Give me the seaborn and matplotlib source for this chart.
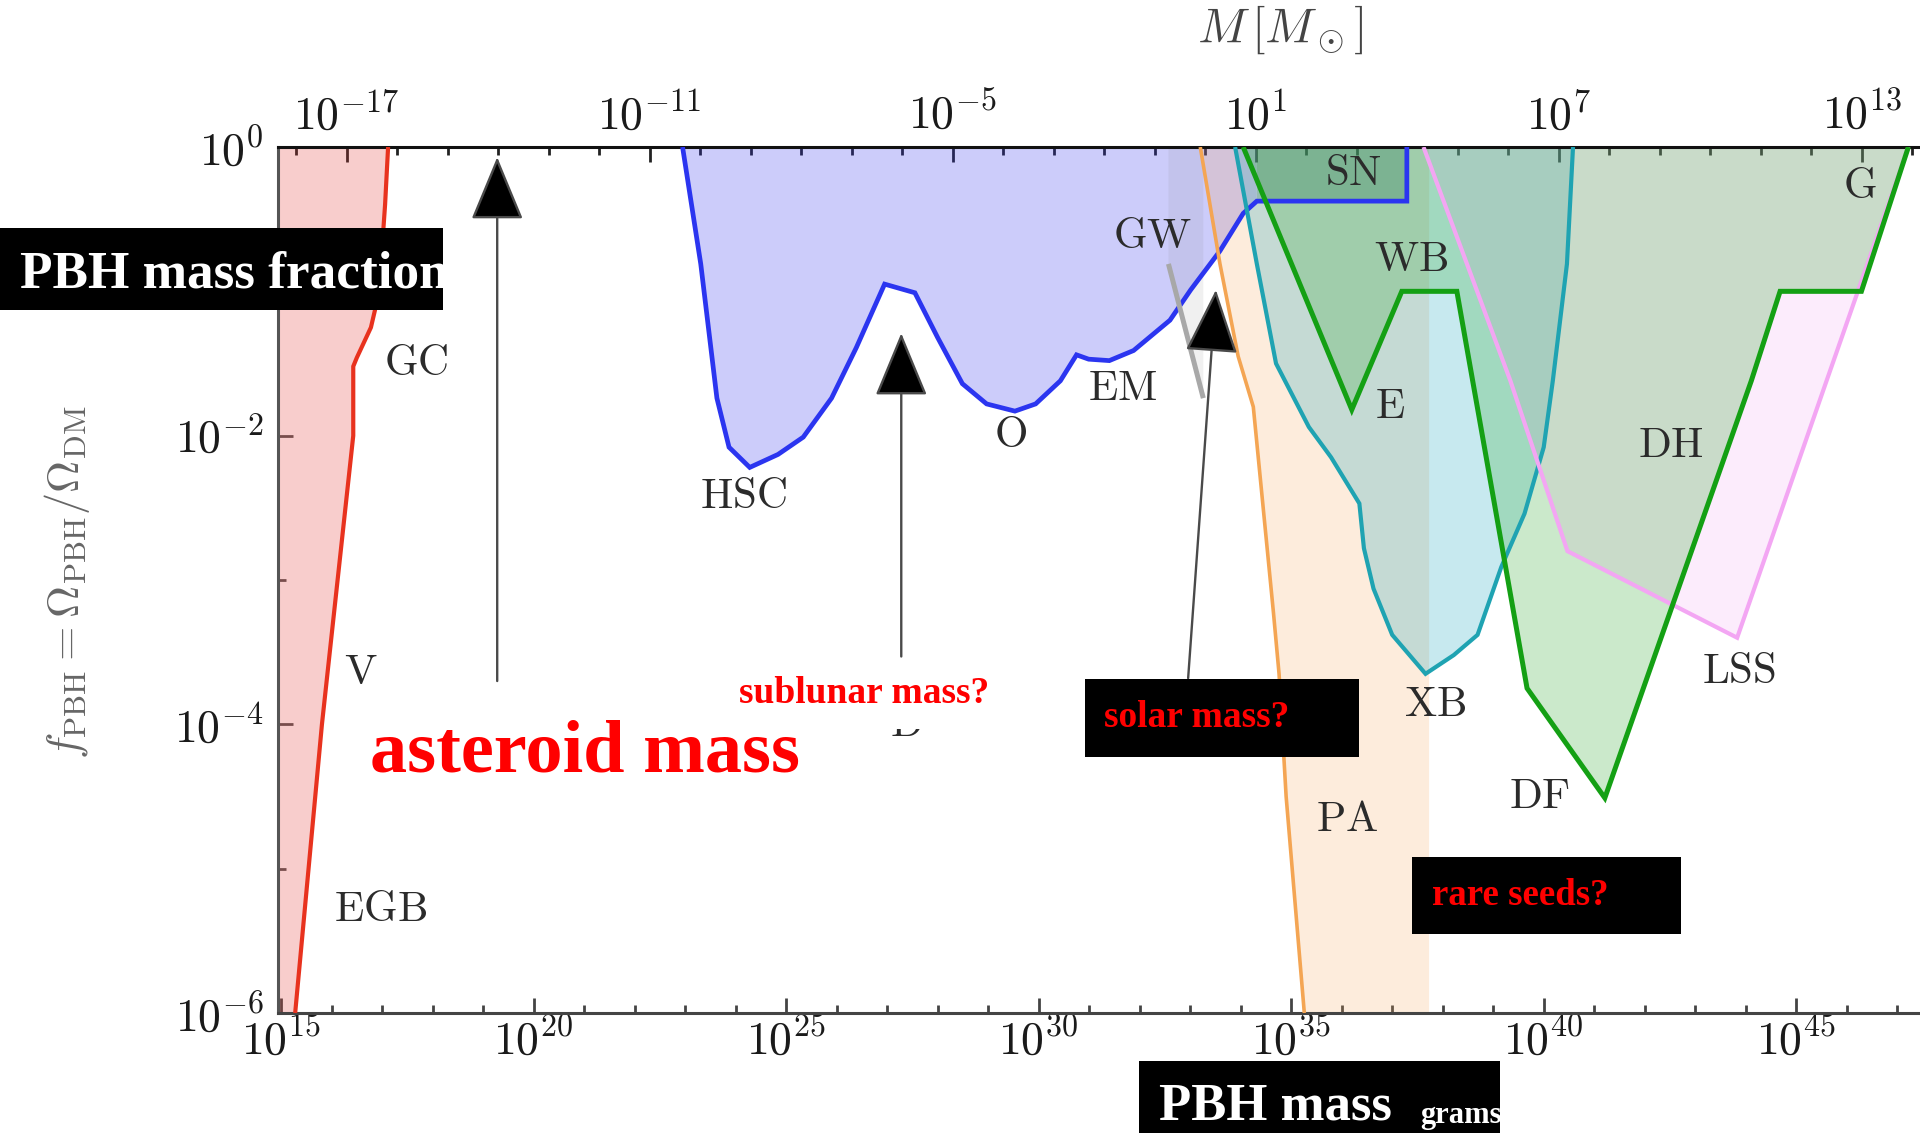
import numpy as np
import matplotlib
matplotlib.use("Agg")
import matplotlib.pyplot as plt
import seaborn as sns
from matplotlib.patches import Rectangle
from matplotlib.ticker import FixedLocator, NullFormatter

MSUN_G = 1.989e33

# ---- constraint boundaries: log10(M / g) and log10(f_PBH) ----
evap_logm = [15.28, 15.81, 16.43, 16.43, 16.50, 16.78, 16.86, 17.00, 17.06, 17.12]
evap_logf = [-6.0, -4.0, -2.0, -1.52, -1.46, -1.25, -1.13, -0.70, -0.40, 0.0]

lens_logm = [22.95, 23.31, 23.63, 23.87, 24.28, 24.84, 25.34, 25.90, 26.39, 26.95,
             27.55, 28.00, 28.49, 28.97, 29.53, 29.94, 30.43, 30.75, 30.99, 31.40,
             31.88, 32.60, 33.01, 33.59, 34.05, 34.32]
lens_logf = [0.0, -0.81, -1.74, -2.08, -2.22, -2.13, -2.01, -1.74, -1.39, -0.95,
             -1.01, -1.32, -1.64, -1.78, -1.83, -1.78, -1.62, -1.44, -1.47, -1.48,
             -1.41, -1.20, -0.99, -0.72, -0.46, -0.375]

sn_logm = [34.32, 37.29, 37.29]
sn_logf = [-0.375, -0.375, 0.0]

accr_logm = [33.20, 33.59, 33.95, 34.25, 34.65, 34.76, 34.90, 35.26]
accr_logf = [0.0, -0.81, -1.45, -1.80, -3.23, -3.65, -4.50, -6.0]
accr_edge_logm = 37.72

xray_logm = [33.89, 34.32, 34.70, 35.35, 35.79, 36.35, 36.44, 36.63, 37.00, 37.66,
             38.22, 38.69, 39.16, 39.62, 40.00, 40.18, 40.46, 40.58]
xray_logf = [0.0, -0.81, -1.50, -1.94, -2.15, -2.47, -2.78, -3.06, -3.38, -3.65,
             -3.52, -3.38, -2.91, -2.54, -2.08, -1.62, -0.81, 0.0]

dyn_logm = [34.05, 36.20, 37.19, 38.28, 39.67, 41.21, 44.11, 44.68, 46.29, 47.22]
dyn_logf = [0.0, -1.82, -1.0, -1.0, -3.75, -4.51, -1.62, -1.0, -1.0, 0.0]

lss_logm = [37.62, 39.34, 40.47, 43.83, 45.60, 47.22]
lss_logf = [0.0, -1.62, -2.80, -3.40, -1.62, 0.0]

gw_logm = [32.57, 33.26]
gw_logf = [-0.81, -1.74]

# constraint labels: (text, log10 M, log10 f)
labels = [("GC", 17.67, -1.51), ("V", 16.58, -3.65), ("EGB", 16.96, -5.29),
          ("HSC", 24.15, -2.43), ("O", 29.44, -2.01), ("EM", 31.67, -1.68),
          ("GW", 32.25, -0.63), ("SN", 36.23, -0.19), ("WB", 37.38, -0.79),
          ("E", 36.96, -1.81), ("DH", 42.52, -2.08), ("XB", 37.85, -3.87),
          ("LSS", 43.87, -3.64), ("DF", 39.91, -4.51), ("PA", 36.11, -4.67),
          ("G", 46.25, -0.28), ("D", 27.38, -4.01)]

# arrows: (tail log10 M, tail log10 f, head log10 M, head log10 f)
arrows = [(19.28, -3.70, 19.28, -0.07),
          (27.28, -3.53, 27.28, -1.29),
          (32.96, -3.68, 33.51, -0.99)]

bottom_major = [15, 20, 25, 30, 35, 40, 45]
top_major = [-17, -11, -5, 1, 7, 13]
left_major = [0, -2, -4, -6]

W, H = 1920, 1133
sns.set_theme(style="white")
plt.rcParams["mathtext.fontset"] = "cm"
plt.rcParams["font.family"] = ["Liberation Serif", "DejaVu Sans"]

fig = plt.figure(figsize=(W / 100, H / 100), dpi=100)
fig.patch.set_facecolor("white")


def fx(x):
    return x / W


def fy(y):
    return 1 - y / H


ax = fig.add_axes([fx(278), fy(1013), (W - 278) / W, (1013 - 147) / H])
ax.set_facecolor("white")
ax.set_xscale("log")
ax.set_yscale("log")
XMIN, XMAX = 10 ** 14.94, 10 ** 47.45
ax.set_xlim(XMIN, XMAX)
ax.set_ylim(1e-6, 1.0)


def p(a):
    return 10.0 ** np.asarray(a, dtype=float)


# ---- shaded excluded regions ----
ax.fill_betweenx(p(evap_logf), XMIN, p(evap_logm), color="#e53935", alpha=0.25, lw=0, zorder=1)
ax.fill(p(lens_logm + [lens_logm[-1]]), p(lens_logf + [0.0]), color="#3535ee", alpha=0.25, lw=0, zorder=1)
ax.fill_betweenx(p(accr_logf), p(accr_logm), 10 ** accr_edge_logm, color="#f5a050", alpha=0.2, lw=0, zorder=1)
ax.fill(p([gw_logm[0]] + gw_logm + [gw_logm[1]]), p([0.0] + gw_logf + [0.0]),
        color="#888888", alpha=0.12, lw=0, zorder=1)
ax.fill(p(xray_logm), p(xray_logf), color="#20a8c0", alpha=0.25, lw=0, zorder=1)
ax.fill(p(lss_logm), p(lss_logf), color="#f0a0f0", alpha=0.2, lw=0, zorder=1)
ax.fill(p(dyn_logm), p(dyn_logf), color="#33aa33", alpha=0.25, lw=0, zorder=1)
ax.fill(p([sn_logm[0]] + sn_logm + [sn_logm[0]]), p([sn_logf[0]] + sn_logf + [0.0]),
        color="#2a7a5a", alpha=0.3, lw=0, zorder=1)

# ---- boundary curves ----
curves = [
    (evap_logm, evap_logf, "#e8321e", 3.0),
    (lens_logm + sn_logm, lens_logf + sn_logf, "#2b35f0", 3.4),
    (accr_logm, accr_logf, "#f4a553", 2.6),
    (xray_logm, xray_logf, "#1fa3b2", 3.0),
    (lss_logm, lss_logf, "#f3a6f3", 3.0),
    (dyn_logm, dyn_logf, "#14a014", 3.6),
    (gw_logm, gw_logf, "#a8a8a8", 3.6),
]
for lm, lf, col, lw in curves:
    sns.lineplot(x=p(lm), y=p(lf), sort=False, estimator=None, color=col,
                 linewidth=lw, ax=ax, legend=False, zorder=3)
for ln in ax.lines:
    ln.set_solid_capstyle("butt")
    ln.set_solid_joinstyle("miter")

# ---- labels ----
for txt, lm, lf in labels:
    ax.text(10 ** lm, 10 ** lf, r"$\mathrm{%s}$" % txt, fontsize=31, color="#2b2b2b",
            ha="center", va="center", zorder=4)

for tm, tf, hm, hf in arrows:
    ax.annotate("", xy=(10 ** hm, 10 ** hf), xytext=(10 ** tm, 10 ** tf),
                arrowprops=dict(arrowstyle="-|>,head_length=4.1,head_width=1.7",
                                mutation_scale=10, ec="#4a4a4a", fc="black", lw=1.7,
                                shrinkA=0, shrinkB=0), zorder=5)

# ---- axes styling ----
for side in ("left", "bottom", "top"):
    ax.spines[side].set_linewidth(2.2)
ax.spines["left"].set_color("#555555")
ax.spines["bottom"].set_color("#444444")
ax.spines["top"].set_color("#111111")
ax.spines["right"].set_visible(False)

ax.xaxis.set_major_locator(FixedLocator(p(bottom_major)))
ax.xaxis.set_minor_locator(FixedLocator(p(range(15, 48))))
ax.set_xticklabels([r"$10^{%d}$" % k for k in bottom_major])
ax.xaxis.set_minor_formatter(NullFormatter())
ax.yaxis.set_major_locator(FixedLocator(p(left_major)))
ax.yaxis.set_minor_locator(FixedLocator(p([-1, -3, -5])))
ax.set_yticklabels([r"$10^{%d}$" % k for k in left_major])
ax.yaxis.set_minor_formatter(NullFormatter())
ax.tick_params(axis="x", which="both", direction="in", top=False, bottom=True,
               colors="#444444", labelcolor="#1a1a1a", labelsize=33, pad=4)
ax.tick_params(axis="y", which="both", direction="in", left=True, right=False,
               colors="#555555", labelcolor="#1a1a1a", labelsize=33, pad=10)
ax.tick_params(which="major", length=11, width=2.0)
ax.tick_params(which="minor", length=6, width=2.0)

sec = ax.secondary_xaxis("top", functions=(lambda m: m / MSUN_G, lambda s: s * MSUN_G))
sec.xaxis.set_major_locator(FixedLocator(p(top_major)))
sec.xaxis.set_minor_locator(FixedLocator(p(range(-18, 15))))
sec.set_xticklabels([r"$10^{%d}$" % k for k in top_major])
sec.xaxis.set_minor_formatter(NullFormatter())
sec.tick_params(which="both", direction="in", colors="#222222", labelcolor="#1a1a1a",
                labelsize=33, pad=6)
sec.tick_params(which="major", length=11, width=2.0)
sec.tick_params(which="minor", length=6, width=2.0)
sec.spines["top"].set_visible(False)

fig.text(fx(1280), fy(30), r"$M\,[M_\odot]$", fontsize=35, color="#444444",
         ha="center", va="center")
fig.text(fx(67), fy(582), r"$f_{\rm PBH} = \Omega_{\rm PBH}/\Omega_{\rm DM}$",
         fontsize=32, color="#666666", rotation=90, ha="center", va="center")

# ---- overlaid annotation boxes ----
def box(x0, y0, x1, y1, color="black", z=10):
    r = Rectangle((fx(x0), fy(y1)), (x1 - x0) / W, (y1 - y0) / H,
                  transform=fig.transFigure, facecolor=color, edgecolor="none", zorder=z)
    fig.add_artist(r)
    return r


def boxtext(x, y, s, size, color, clip=None, va="baseline"):
    t = fig.text(fx(x), fy(y), s, fontsize=size, color=color, fontweight="bold",
                 family=["Liberation Serif", "DejaVu Serif"], ha="left", va=va, zorder=11)
    if clip is not None:
        t.set_clip_path(clip)
    return t


b1 = box(0, 228, 443, 310)
boxtext(20, 288, "PBH mass fraction", 38.3, "white", clip=b1)

box(730, 660, 1000, 729, color="white", z=6)
boxtext(739, 703, "sublunar mass?", 27, "#ff0000")

box(1085, 679, 1359, 757)
boxtext(1104, 727, "solar mass?", 27, "#ff0000")

box(1412, 857, 1681, 934)
boxtext(1432, 905, "rare seeds?", 26.5, "#ff0000")

boxtext(370, 772, "asteroid mass", 53.5, "#ff0000")

b4 = box(1139, 1061, 1500, 1133)
boxtext(1159, 1120, "PBH mass", 38, "white", clip=b4)
boxtext(1420, 1123, "grams", 22, "white", clip=b4)

fig.savefig("out.png", dpi=100, facecolor="white")
